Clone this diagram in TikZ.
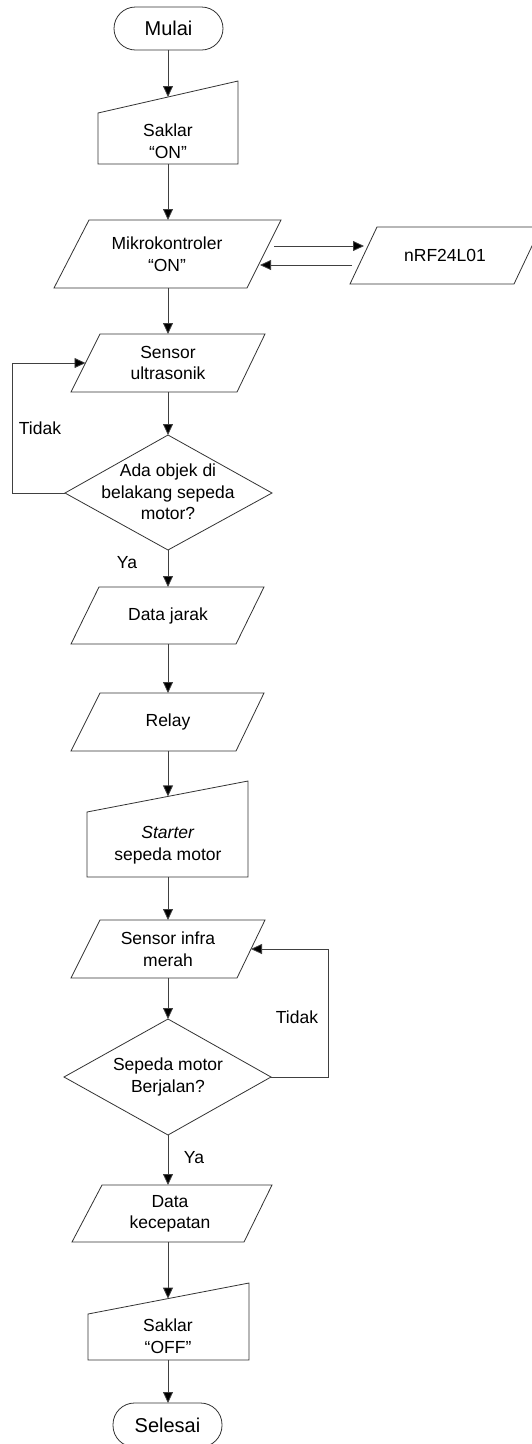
\documentclass[tikz,border=0pt]{standalone}
\usepackage{fontspec}
\setmainfont{Liberation Sans}
\usetikzlibrary{arrows.meta}
\tikzset{
  shp/.style={draw=black!80, line width=0.8pt, line join=miter},
  con/.style={draw=black!75, line width=0.8pt, -{Triangle[length=11pt,width=10pt,fill=black]}},
  txt/.style={align=center, inner sep=0pt, font=\fontsize{17.5}{21.5}\selectfont},
  term/.style={align=center, inner sep=0pt, font=\fontsize{20}{24}\selectfont},
  lbl/.style={inner sep=0pt, font=\fontsize{17.5}{21.5}\selectfont}
}
\begin{document}
\begin{tikzpicture}[x=1pt,y=-1pt]
\useasboundingbox (0,0) rectangle (531,1444);
\fill[white] (0,0) rectangle (531,1444);

% Mulai
\draw[shp, rounded corners=21.5pt] (114,7) rectangle (223,50);
\node[term] (mulai) at (168.5,28.5) {Mulai};
\coordinate (mulaiB) at (168,50);

% Saklar ON
\draw[shp] (98,113) -- (238,81) -- (238,164) -- (98,164) -- cycle;
\node[txt] (saklar) at (168,141) {Saklar\\``ON''};
\coordinate (saklarT) at (168,97);
\coordinate (saklarB) at (168,164);

% Mikrokontroler
\draw[shp] (89,220) -- (281,220) -- (247,288) -- (54,288) -- cycle;
\node[txt] (mikro) at (167,254) {Mikrokontroler\\``ON''};
\coordinate (mikroT) at (168,220);
\coordinate (mikroB) at (168,288);
\coordinate (mikroR1) at (274,246);
\coordinate (mikroR2) at (260,265);

% nRF24L01
\draw[shp] (377,227) -- (541,227) -- (514,284) -- (350,284) -- cycle;
\node[txt] (nrf) at (445,255) {nRF24L01};
\coordinate (nrfL1) at (364,246);
\coordinate (nrfL2) at (352,265);

% Sensor ultrasonik
\draw[shp] (100,334) -- (265,334) -- (237,392) -- (71,392) -- cycle;
\node[txt] (sensor) at (168,363) {Sensor\\ultrasonik};
\coordinate (sensorT) at (168,334);
\coordinate (sensorB) at (168,392);
\coordinate (sensorL) at (85.5,363);

% Decision 1
\draw[shp] (168,435) -- (272,493) -- (168,550) -- (65,493) -- cycle;
\node[txt] (dec1) at (168,492) {Ada objek di\\belakang sepeda\\motor?};
\coordinate (dec1T) at (168,435);
\coordinate (dec1B) at (168,550);
\coordinate (dec1L) at (65,493);
\coordinate (loop1a) at (12,493);
\coordinate (loop1b) at (12,363);
\node[lbl] (tidak1) at (40,428) {Tidak};
\node[lbl] (ya1) at (127,563) {Ya};

% Data jarak
\draw[shp] (99,587) -- (264,587) -- (236,644) -- (71,644) -- cycle;
\node[txt] (jarak) at (168,616) {Data jarak};
\coordinate (jarakT) at (168,587);
\coordinate (jarakB) at (168,644);

% Relay
\draw[shp] (100,693) -- (264,693) -- (236,751) -- (71,751) -- cycle;
\node[txt] (relay) at (168,722) {Relay};
\coordinate (relayT) at (168,693);
\coordinate (relayB) at (168,751);

% Starter
\draw[shp] (87,812) -- (248,781) -- (248,877) -- (87,877) -- cycle;
\node[txt] (starter) at (168,845) {\textit{Starter}\\sepeda motor};
\coordinate (starterT) at (168,796.4);
\coordinate (starterB) at (168,877);

% Sensor infra merah
\draw[shp] (100,920) -- (265,920) -- (237,978) -- (71,978) -- cycle;
\node[txt] (infra) at (168,949) {Sensor infra\\merah};
\coordinate (infraT) at (168,920);
\coordinate (infraB) at (168,978);
\coordinate (infraR) at (251,949);

% Decision 2
\draw[shp] (168,1019) -- (271,1077) -- (168,1135) -- (64,1077) -- cycle;
\node[txt] (dec2) at (168,1077) {Sepeda motor\\Berjalan?};
\coordinate (dec2T) at (168,1019);
\coordinate (dec2B) at (168,1135);
\coordinate (dec2R) at (271,1077);
\coordinate (loop2a) at (328,1077);
\coordinate (loop2b) at (328,949);
\node[lbl] (tidak2) at (297,1017) {Tidak};
\node[lbl] (ya2) at (194,1158) {Ya};

% Data kecepatan
\draw[shp] (102,1185) -- (272,1185) -- (244,1242) -- (72,1242) -- cycle;
\node[txt] (kecep) at (170,1214) {Data\\kecepatan};
\coordinate (kecepT) at (168,1185);
\coordinate (kecepB) at (168,1242);

% Saklar OFF
\draw[shp] (88,1314) -- (249,1283) -- (249,1360) -- (88,1360) -- cycle;
\node[txt] (off) at (168,1336) {Saklar\\``OFF''};
\coordinate (offT) at (168,1298.6);
\coordinate (offB) at (168,1360);

% Selesai
\draw[shp, rounded corners=21.5pt] (113,1403) rectangle (222,1447);
\node[term] (selesai) at (167.5,1425) {Selesai};
\coordinate (selesaiT) at (168,1403);

% connectors
\draw[con] (mulaiB) -- (saklarT);
\draw[con] (saklarB) -- (mikroT);
\draw[con] (mikroR1) -- (nrfL1);
\draw[con] (nrfL2) -- (mikroR2);
\draw[con] (mikroB) -- (sensorT);
\draw[con] (sensorB) -- (dec1T);
\draw[con] (dec1L) -- (loop1a) -- (loop1b) -- (sensorL);
\draw[con] (dec1B) -- (jarakT);
\draw[con] (jarakB) -- (relayT);
\draw[con] (relayB) -- (starterT);
\draw[con] (starterB) -- (infraT);
\draw[con] (infraB) -- (dec2T);
\draw[con] (dec2R) -- (loop2a) -- (loop2b) -- (infraR);
\draw[con] (dec2B) -- (kecepT);
\draw[con] (kecepB) -- (offT);
\draw[con] (offB) -- (selesaiT);
\end{tikzpicture}
\end{document}
